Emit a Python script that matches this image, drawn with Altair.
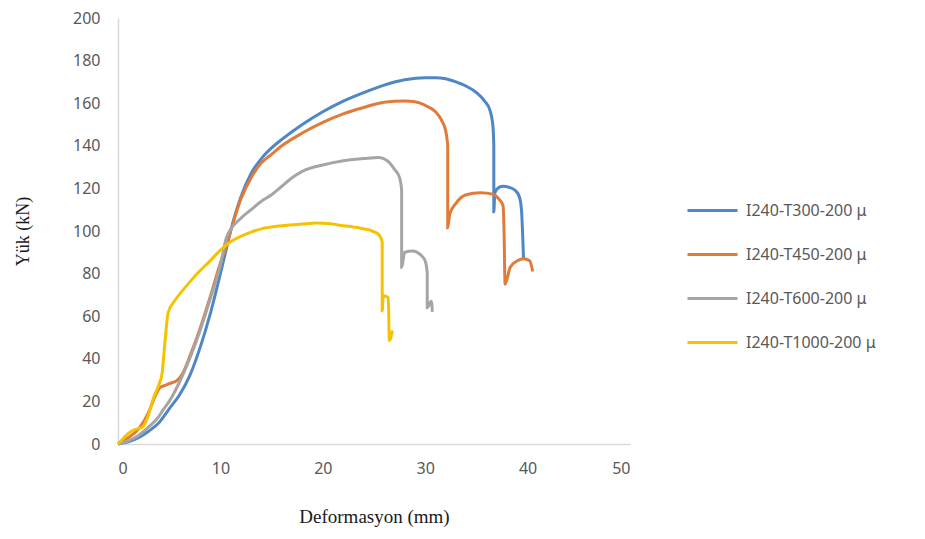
import altair as alt
import pandas as pd

series_names = ["I240-T300-200 μ", "I240-T450-200 μ", "I240-T600-200 μ", "I240-T1000-200 μ"]
colors = ["#4F86C6", "#E07B39", "#A5A5A5", "#F5C200"]

t300_x = [0, 1, 2, 3, 4, 5, 6, 7, 8, 9, 10, 10.5, 11, 12, 13, 14, 15, 16, 18, 20, 22, 24, 26, 28, 30, 31, 32, 33, 34, 35, 35.8, 36.3, 36.6, 36.7, 36.7, 36.8, 37.2, 37.6, 38.2, 38.8, 39.2, 39.4, 39.6]
t300_y = [0, 1, 3, 6, 10, 16.5, 23, 32, 45, 61, 80, 90, 100, 116, 127, 134, 139, 143, 150, 156, 161, 165, 168.5, 171, 172, 172, 171.5, 170, 168, 165, 161, 157, 150, 140, 109, 118, 120.5, 121, 120.5, 119, 116, 110, 87]

t450_x = [0, 1, 2, 3, 3.5, 4.1, 4.6, 5.1, 5.8, 6.3, 7, 8, 9, 10, 10.5, 11, 12, 13, 14, 15, 16, 18, 20, 22, 24, 26, 28, 29, 30, 31, 31.6, 32, 32.2, 32.2, 32.4, 33, 34, 35.4, 36.6, 37.2, 37.6, 37.7, 37.8, 38.3, 39, 39.6, 40.2, 40.5]
t450_y = [0, 3, 7, 15, 21, 26.5, 27.5, 28.5, 30, 33, 41, 54, 69, 85, 92, 100, 115, 125, 132, 136, 140, 146, 151, 155, 158, 160.5, 161, 160.7, 159, 156, 152, 147, 140, 101.5, 108, 113, 117, 118, 117.3, 115, 112, 100, 75, 83, 86, 87, 86, 81]

t600_x = [0, 1, 2, 3, 4, 4.4, 5, 6, 7, 8, 9, 10, 10.6, 12, 13, 14, 15, 16, 17, 18, 20, 22, 24, 25.5, 26.3, 27, 27.5, 27.7, 27.7, 28, 28.8, 29.5, 30, 30.2, 30.2, 30.6, 30.7]
t600_y = [0, 1.5, 4, 8, 13, 16, 20, 29, 40, 53, 68, 84, 97, 106, 110, 114, 117, 121, 125, 128, 131, 133, 134, 134.5, 133, 129, 125, 119, 83, 90, 90.6, 89, 86, 80, 64, 67, 62]

t1000_x = [0, 0.5, 1, 1.5, 2.4, 3, 3.4, 4, 4.3, 4.6, 4.9, 5.5, 6.3, 7, 8, 9, 10, 11, 12, 13, 14, 16, 18, 19.4, 20.5, 22, 23.6, 24.5, 25.4, 25.8, 25.8, 25.9, 26.4, 26.5, 26.8]
t1000_y = [0, 2.5, 5, 6.5, 8, 14, 20.6, 28, 33, 48.6, 61.7, 67, 72, 76, 81.3, 86, 91, 95, 97.5, 99.5, 101, 102.5, 103.3, 103.7, 103.5, 102.5, 101.4, 100.5, 98.6, 95, 62.6, 69.6, 68.7, 48.6, 53.3]

x_ticks = [0, 10, 20, 30, 40, 50]
y_ticks = [0, 20, 40, 60, 80, 100, 120, 140, 160, 180, 200]

rows = []
for name, xs, ys in zip(series_names,
                        [t300_x, t450_x, t600_x, t1000_x],
                        [t300_y, t450_y, t600_y, t1000_y]):
    for i, (xv, yv) in enumerate(zip(xs, ys)):
        rows.append({"series": name, "x": xv, "y": yv, "i": i})
df = pd.DataFrame(rows)

label_font = "Noto Sans"
title_font = "Liberation Serif"

chart = alt.Chart(df).mark_line(strokeWidth=3, interpolate="monotone").encode(
    x=alt.X("x:Q", scale=alt.Scale(domain=[0, 50], nice=False),
            axis=alt.Axis(values=x_ticks, grid=False, ticks=False, domainColor="#d9d9d9",
                          domainWidth=1.5, labelColor="#595959", labelFontSize=16,
                          labelFont=label_font, labelPadding=16,
                          title="Deformasyon (mm)", titleFont=title_font, titleFontSize=19,
                          titleFontWeight="normal", titleColor="#1a1a1a", titlePadding=31)),
    y=alt.Y("y:Q", scale=alt.Scale(domain=[0, 200], nice=False),
            axis=alt.Axis(values=y_ticks, grid=False, ticks=False, domainColor="#d9d9d9",
                          domainWidth=1.5, labelColor="#595959", labelFontSize=16,
                          labelFont=label_font, labelPadding=18,
                          title="Yük (kN)", titleFont=title_font, titleFontSize=18,
                          titleFontWeight="normal", titleColor="#1a1a1a", titlePadding=40)),
    color=alt.Color("series:N", sort=series_names,
                    scale=alt.Scale(domain=series_names, range=colors),
                    legend=alt.Legend(title=None, orient="none", legendX=568, legendY=166,
                                      symbolType="stroke", symbolSize=2500, symbolStrokeWidth=3,
                                      labelFont=label_font, labelFontSize=16, labelColor="#595959",
                                      labelOffset=7, rowPadding=9, padding=0)),
    order=alt.Order("i:Q"),
).properties(
    width=512, height=426,
    autosize=alt.AutoSizeParams(type="none"),
    padding={"left": 110, "top": 10, "right": 280, "bottom": 84},
).configure_view(stroke=None)

chart.save("out.html", embed_options={"renderer": "svg", "actions": False})
